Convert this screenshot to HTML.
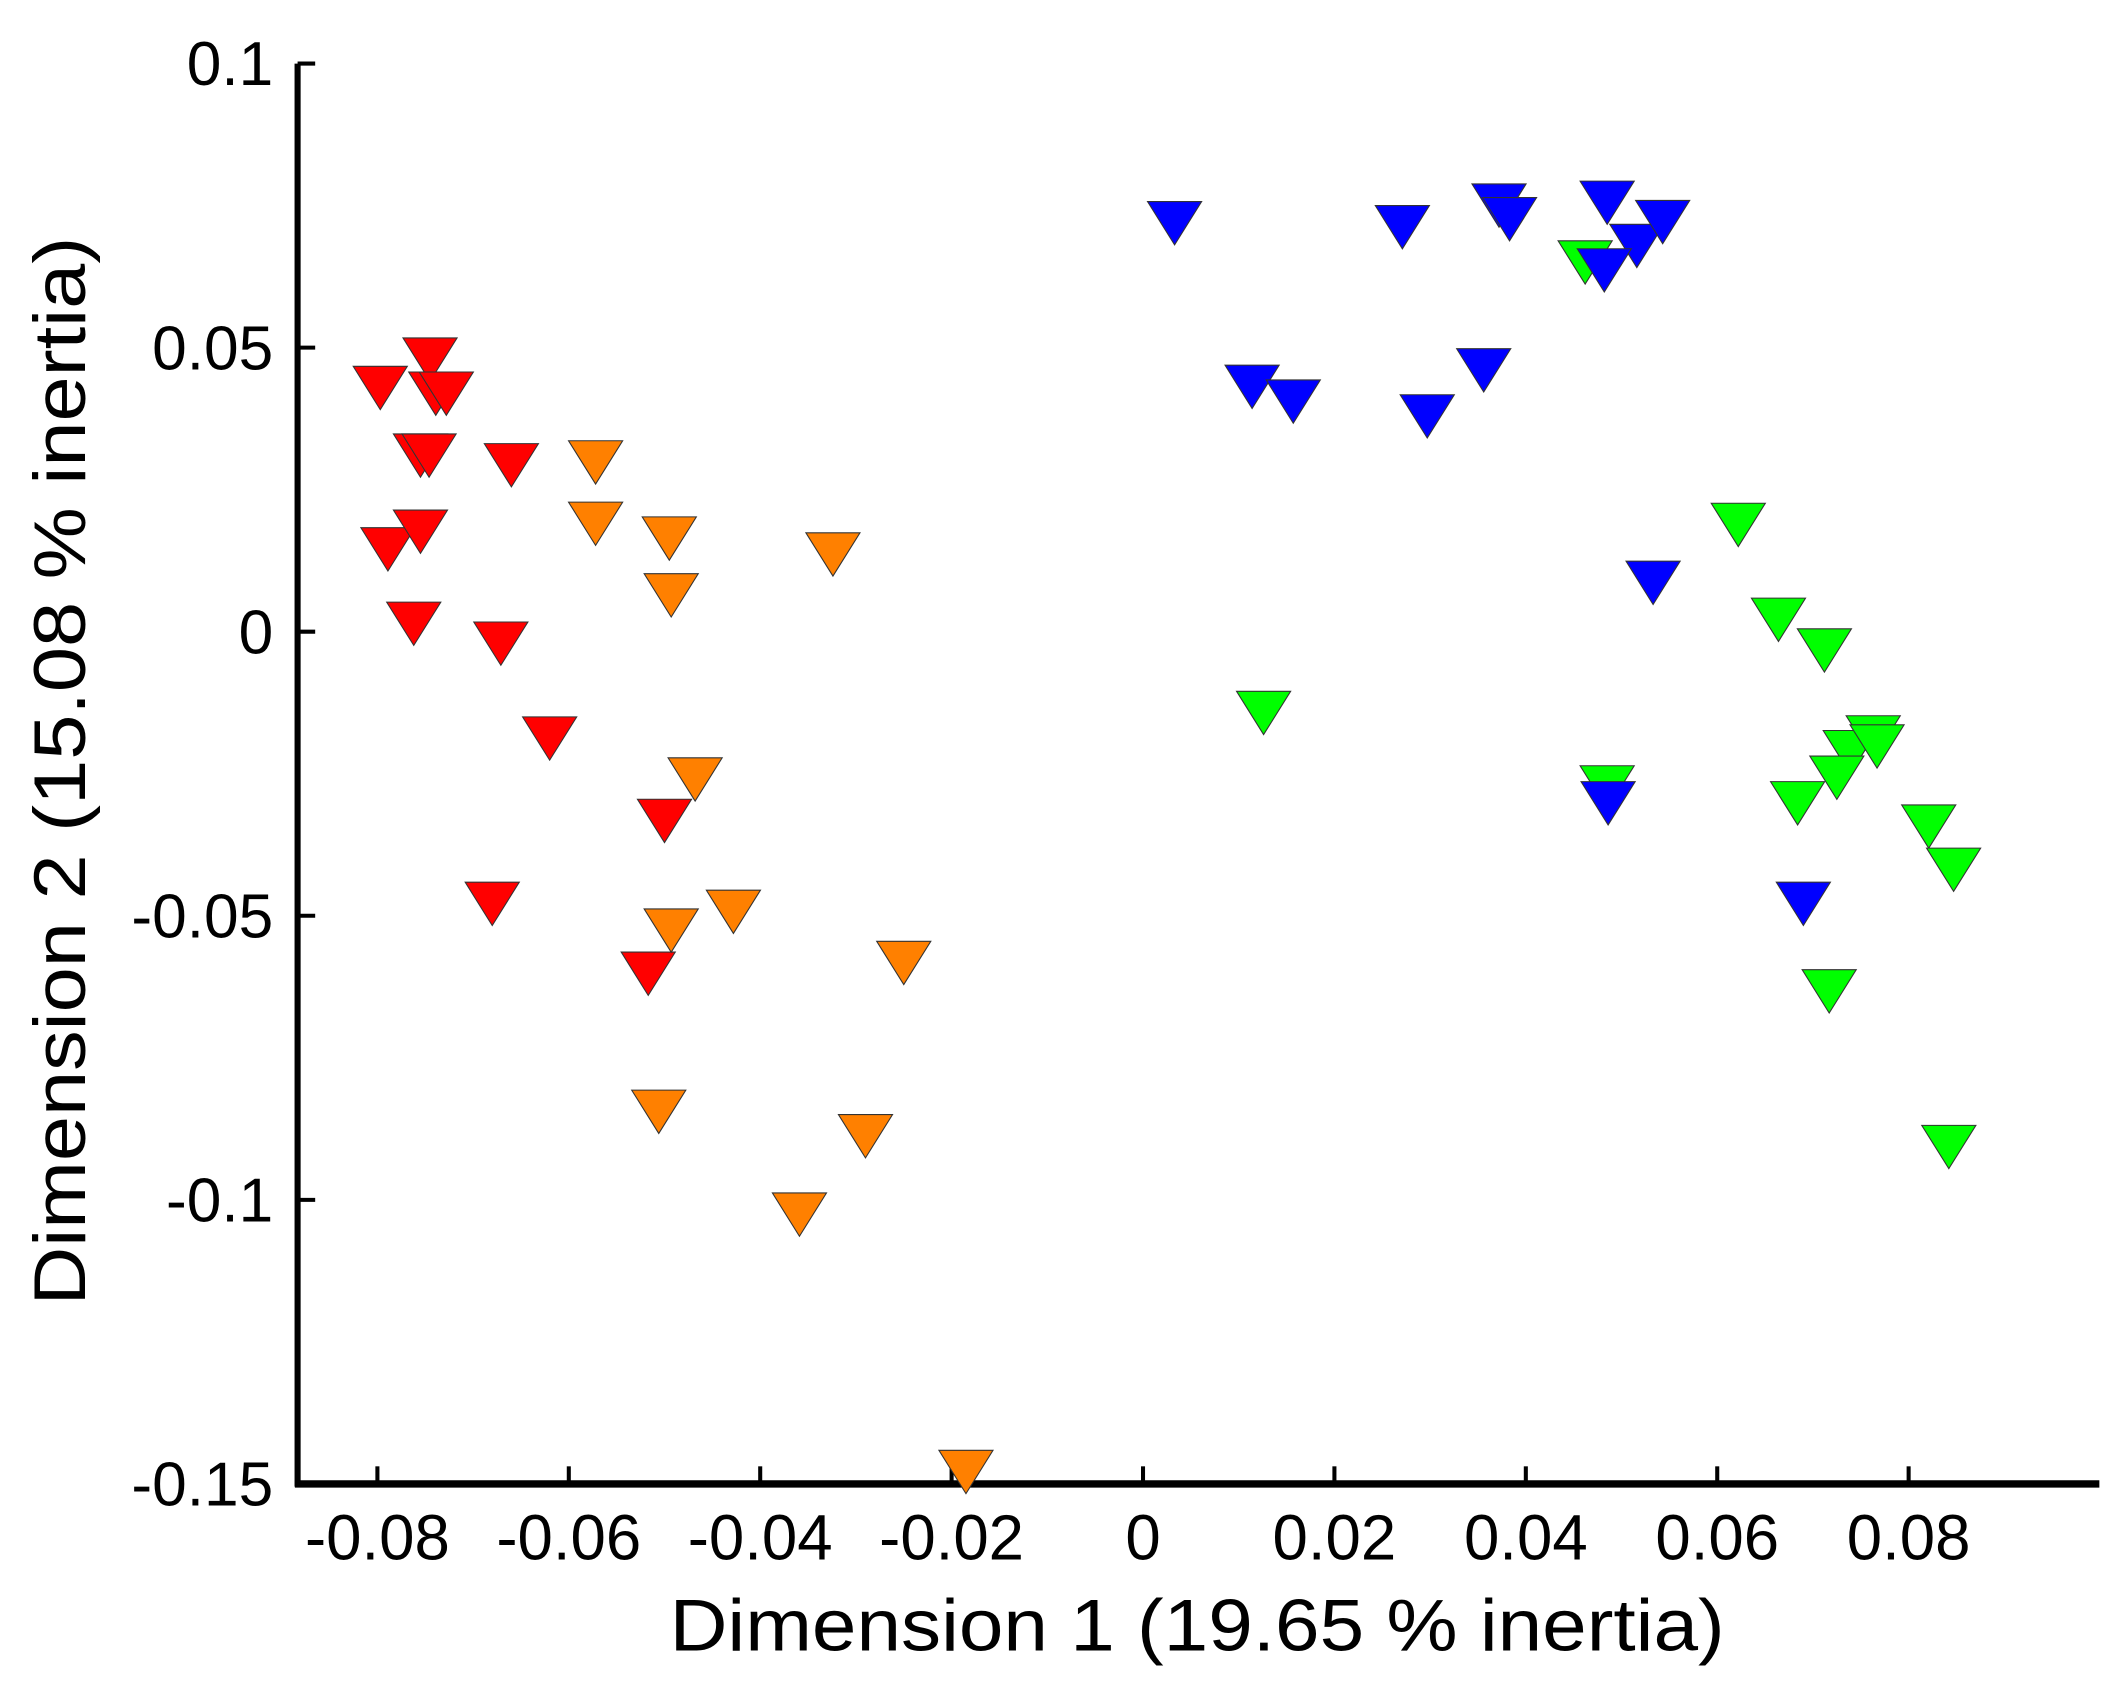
<!DOCTYPE html>
<html><head><meta charset="utf-8"><style>
html,body{margin:0;padding:0;background:#fff;}
svg{display:block;}
text{font-family:"Liberation Sans",Arial,sans-serif;fill:#000;}
</style></head><body>
<svg id="chart" width="2121" height="1681" viewBox="0 0 1568 1242.7" preserveAspectRatio="none" xmlns="http://www.w3.org/2000/svg">
<g id="axes"></g>
<g id="marks"></g>
<text x="885" y="1220" font-size="54" text-anchor="middle" textLength="780" lengthAdjust="spacingAndGlyphs">Dimension 1 (19.65 %  inertia)</text>
<text x="0" y="0" font-size="54" text-anchor="middle" textLength="790" lengthAdjust="spacingAndGlyphs" transform="translate(63,570) rotate(-90)">Dimension 2 (15.08 %  inertia)</text>
</svg>
<script>
const xTicks = [-0.08,-0.06,-0.04,-0.02,0,0.02,0.04,0.06,0.08];
const xTickLabels = ["-0.08","-0.06","-0.04","-0.02","0","0.02","0.04","0.06","0.08"];
const yTicks = [0.1,0.05,0,-0.05,-0.1,-0.15];
const yTickLabels = ["0.1","0.05","0","-0.05","-0.1","-0.15"];
const redX = [-0.0797,-0.0745,-0.0739,-0.0728,-0.0755,-0.0746,-0.0660,-0.0789,-0.0755,-0.0762,-0.0671,-0.0620,-0.0500,-0.0680,-0.0517];
const redY = [0.0429,0.0479,0.0419,0.0419,0.0310,0.0310,0.0293,0.0145,0.0176,0.0014,-0.0021,-0.0188,-0.0333,-0.0479,-0.0602];
const orangeX = [-0.0572,-0.0572,-0.0495,-0.0324,-0.0493,-0.0468,-0.0493,-0.0428,-0.0250,-0.0506,-0.0290,-0.0359,-0.0185];
const orangeY = [0.0298,0.0190,0.0164,0.0136,0.0064,-0.0260,-0.0526,-0.0493,-0.0583,-0.0845,-0.0888,-0.1026,-0.1479];
const greenX = [0.0462,0.0126,0.0622,0.0664,0.0712,0.0763,0.0739,0.0725,0.0767,0.0684,0.0485,0.0821,0.0847,0.0717,0.0842];
const greenY = [0.0650,-0.0143,0.0188,0.0021,-0.0033,-0.0186,-0.0212,-0.0257,-0.0202,-0.0302,-0.0274,-0.0343,-0.0419,-0.0633,-0.0907];
const blueX = [0.0033,0.0271,0.0372,0.0383,0.0485,0.0516,0.0543,0.0482,0.0114,0.0157,0.0297,0.0356,0.0533,0.0486,0.0690];
const blueY = [0.0719,0.0712,0.0750,0.0726,0.0755,0.0679,0.0721,0.0636,0.0431,0.0405,0.0379,0.0460,0.0086,-0.0302,-0.0479];

const NS="http://www.w3.org/2000/svg";
function sx(v){return 845 + v*7075;}
function sy(v){return 467 - v*4200;}
const axesG=document.getElementById('axes');
const marksG=document.getElementById('marks');
function mk(tag,attrs,parent){const e=document.createElementNS(NS,tag);for(const k in attrs)e.setAttribute(k,attrs[k]);parent.appendChild(e);return e;}
const plotLeft=220, plotBottom=sy(-0.15), plotTop=sy(0.1), plotRight=1552;
let ln=mk('line',{x1:plotLeft,y1:plotTop,x2:plotLeft,y2:plotBottom+2,stroke:'#000','stroke-width':4.5},axesG);


ln=mk('line',{x1:plotLeft-2,y1:plotBottom,x2:plotRight,y2:plotBottom,stroke:'#000','stroke-width':5.5},axesG);


xTicks.forEach((v,i)=>{
  const t=mk('line',{x1:sx(v),y1:plotBottom,x2:sx(v),y2:plotBottom-13,stroke:'#000','stroke-width':3},axesG);
  
  
  const tx=mk('text',{x:sx(v),y:plotBottom+56,'font-size':47,'text-anchor':'middle'},axesG);
  tx.textContent=xTickLabels[i];
  
  
});
yTicks.forEach((v,i)=>{
  const t=mk('line',{x1:plotLeft,y1:sy(v),x2:plotLeft+13,y2:sy(v),stroke:'#000','stroke-width':3},axesG);
  
  
  const tx=mk('text',{x:plotLeft-18,y:sy(v)+16,'font-size':46,'text-anchor':'end'},axesG);
  tx.textContent=yTickLabels[i];
  
  
});
function series(xs,ys,color,name){
  const w=20,h=16;
  xs.forEach((x,i)=>{
    const cx=sx(x), cy=sy(ys[i]);
    const p=mk('polygon',{points:`${cx-w},${cy-h} ${cx+w},${cy-h} ${cx},${cy+h}`,fill:color,stroke:'#333','stroke-width':0.8},marksG);
    
    
  });
}
series(redX,redY,'#ff0000','red-marker');
series(orangeX,orangeY,'#ff8000','orange-marker');
series(greenX,greenY,'#00ff00','green-marker');
series(blueX,blueY,'#0000ff','blue-marker');
</script>
</body></html>
